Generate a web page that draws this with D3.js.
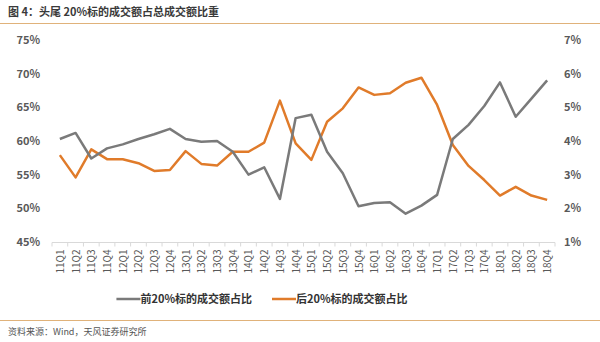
<!DOCTYPE html>
<html><head><meta charset="utf-8">
<script src="https://cdn.jsdelivr.net/npm/d3@7"></script>
<style>body{margin:0;background:#fff;}svg{display:block;font-family:"Noto Sans CJK SC","Noto Sans",sans-serif;}</style>
</head><body><svg id="c" width="600" height="342"></svg>
<script>
const categories = ["11Q1","11Q2","11Q3","11Q4","12Q1","12Q2","12Q3","12Q4","13Q1","13Q2","13Q3","13Q4","14Q1","14Q2","14Q3","14Q4","15Q1","15Q2","15Q3","15Q4","16Q1","16Q2","16Q3","16Q4","17Q1","17Q2","17Q3","17Q4","18Q1","18Q2","18Q3","18Q4"];
const top20 = [60.3,61.2,57.4,58.9,59.5,60.3,61.0,61.8,60.3,59.9,60.0,58.4,55.0,56.1,51.4,63.4,63.9,58.4,55.2,50.3,50.8,50.9,49.2,50.4,52.0,60.3,62.4,65.2,68.7,63.6,66.3,69.0];
const bottom20 = [3.58,2.92,3.75,3.46,3.46,3.34,3.11,3.14,3.70,3.32,3.27,3.68,3.68,3.95,5.20,3.93,3.44,4.57,4.97,5.59,5.37,5.42,5.73,5.88,5.07,3.88,3.26,2.84,2.38,2.64,2.38,2.25];
const leftTicks = [45,50,55,60,65,70,75];
const rightTicks = [1,2,3,4,5,6,7];
const seriesNames = ["前20%标的成交额占比","后20%标的成交额占比"];
const title = "图 4：头尾 20%标的成交额占总成交额比重";
const source = "资料来源：Wind，天风证券研究所";

const svg = d3.select("#c");
const x = d3.scaleBand().domain(categories).range([52,555]);
const yL = d3.scaleLinear().domain([45,75]).range([242,40]);
const yR = d3.scaleLinear().domain([1,7]).range([242,40]);

svg.append("text").attr("x",8).attr("y",16).attr("font-size",11).attr("font-weight","bold").attr("fill","#3a3a3a").text(title);
svg.append("line").attr("x1",0).attr("x2",600).attr("y1",23.5).attr("y2",23.5).attr("stroke","#e0b27a").attr("stroke-width",1.2);

svg.append("g").selectAll("text").data(leftTicks).join("text")
  .attr("x",40).attr("y",d=>yL(d)+4).attr("text-anchor","end").attr("font-size",11).attr("font-weight","bold").attr("fill","#595959")
  .text(d=>d+"%");
svg.append("g").selectAll("text").data(rightTicks).join("text")
  .attr("x",564).attr("y",d=>yR(d)+4).attr("text-anchor","start").attr("font-size",11).attr("font-weight","bold").attr("fill","#595959")
  .text(d=>d+"%");

const xAxis = svg.append("g").attr("transform","translate(0,242.5)");
xAxis.append("line").attr("x1",52).attr("x2",555).attr("stroke","#d9d9d9");
const bounds = categories.map(c=>x(c)).concat([x.range()[1]]);
xAxis.selectAll("line.t").data(bounds).join("line").attr("class","t")
  .attr("x1",d=>d).attr("x2",d=>d).attr("y1",0).attr("y2",4).attr("stroke","#d9d9d9");
xAxis.selectAll("text").data(categories).join("text")
  .attr("transform",d=>`translate(${x(d)+x.bandwidth()/2+4},7) rotate(-90)`)
  .attr("text-anchor","end").attr("font-size",10).attr("fill","#595959").text(d=>d);

const cx = d=>x(d)+x.bandwidth()/2;
const lineL = d3.line().x((d,i)=>cx(categories[i])).y(d=>yL(d));
const lineR = d3.line().x((d,i)=>cx(categories[i])).y(d=>yR(d));
svg.append("path").attr("d",lineR(bottom20)).attr("fill","none").attr("stroke","#e07b2a").attr("stroke-width",2.5).attr("stroke-linejoin","round");
svg.append("path").attr("d",lineL(top20)).attr("fill","none").attr("stroke","#7a7a7a").attr("stroke-width",2.5).attr("stroke-linejoin","round");

// legend, measured and centred
const colors = ["#7a7a7a","#e07b2a"];
const lg = svg.append("g");
let cur = 0;
const items = seriesNames.map((n,i)=>{
  const g = lg.append("g");
  g.append("line").attr("x1",0).attr("x2",24).attr("y1",299).attr("y2",299).attr("stroke",colors[i]).attr("stroke-width",2.5);
  const t = g.append("text").attr("x",24).attr("y",303).attr("font-size",11).attr("font-weight","bold").attr("fill","#333").text(n);
  const w = 24 + t.node().getComputedTextLength();
  g.attr("transform",`translate(${cur},0)`);
  cur += w + 20;
  return g;
});
const total = cur - 20;
lg.attr("transform",`translate(${262 - total/2},0)`);

svg.append("line").attr("x1",0).attr("x2",600).attr("y1",320.5).attr("y2",320.5).attr("stroke","#e0b27a").attr("stroke-width",1.2);
svg.append("text").attr("x",8).attr("y",335).attr("font-size",9).attr("fill","#555").text(source);
</script></body></html>
